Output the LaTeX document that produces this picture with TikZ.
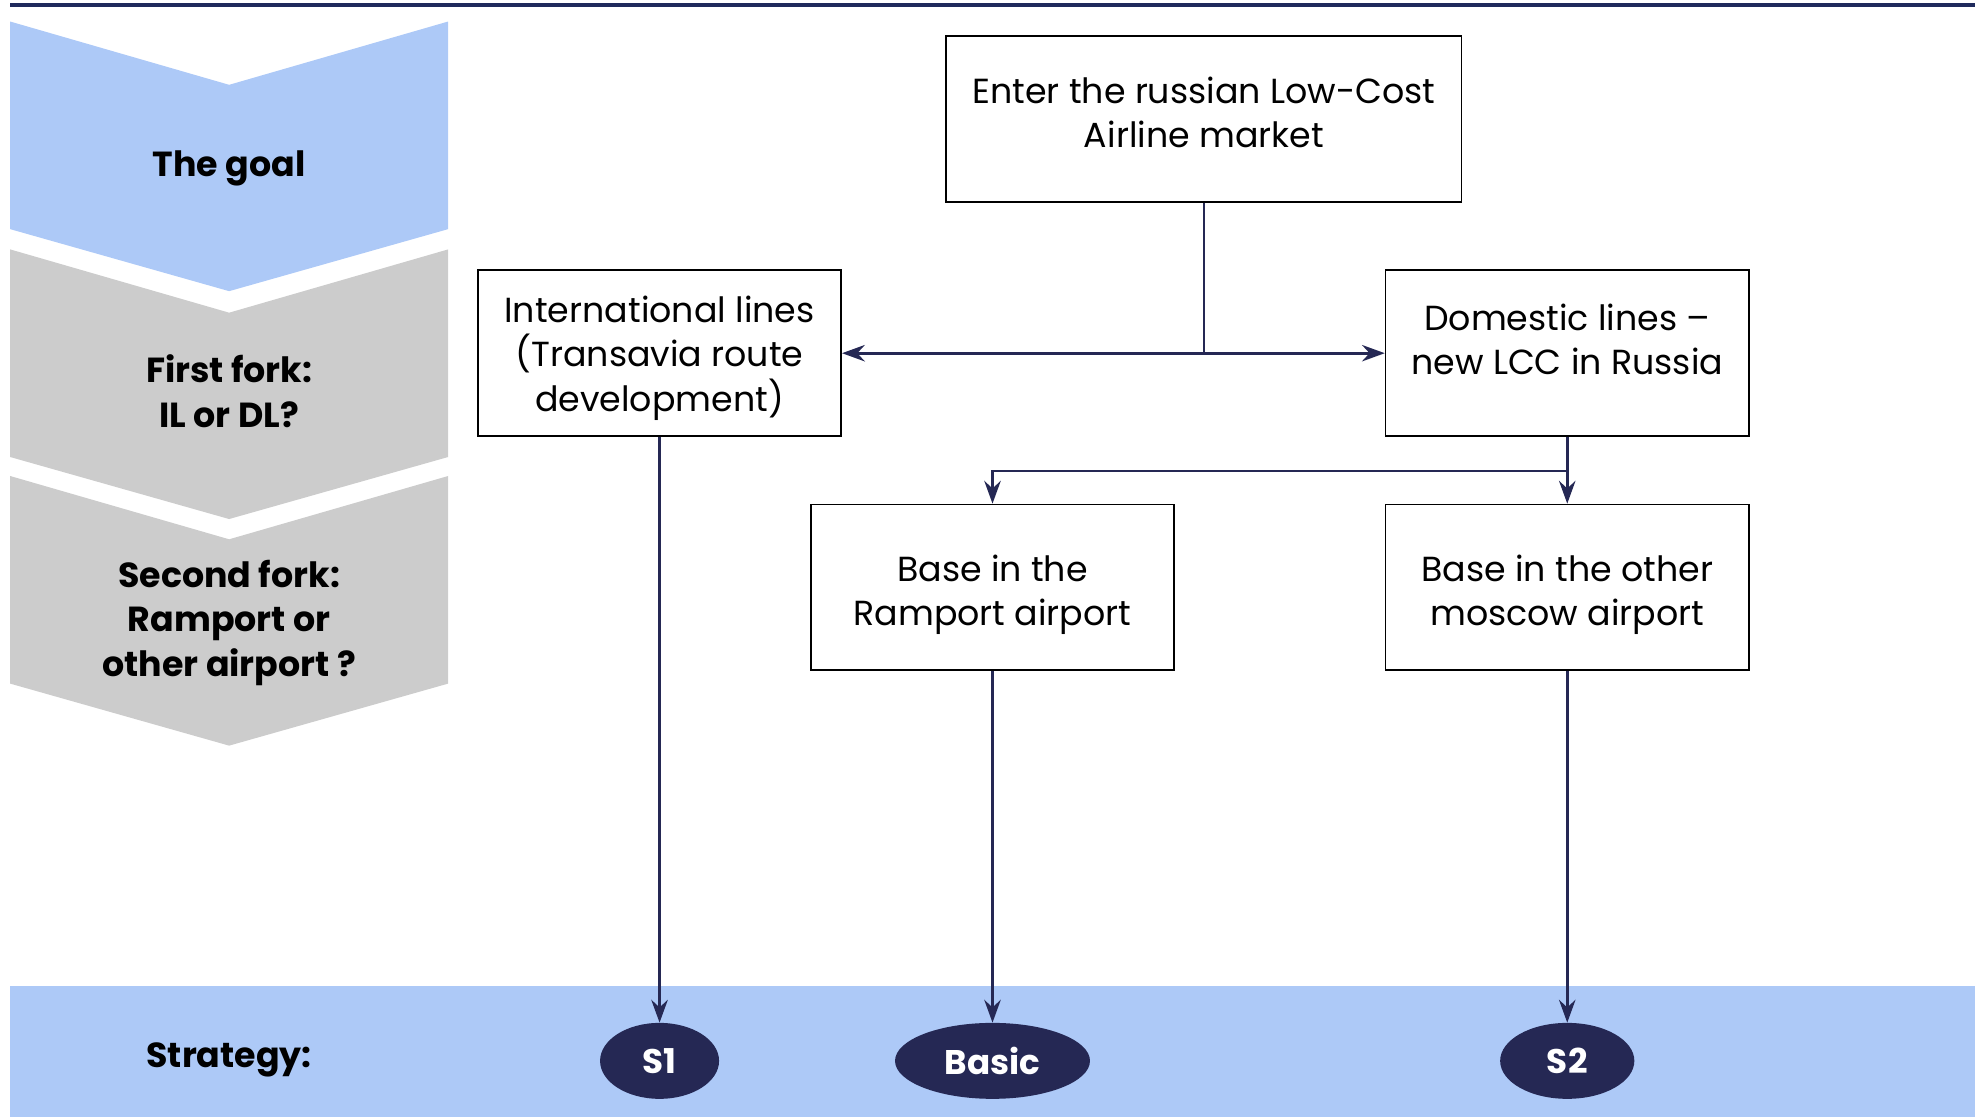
\documentclass[tikz,border=0pt]{standalone}
\usepackage{fontspec}
\setmainfont{Poppins}
\usetikzlibrary{arrows.meta}
\usetikzlibrary{shapes.geometric}

\definecolor{navyLine}{RGB}{31,42,92}
\definecolor{navyArrow}{RGB}{37,40,84}
\definecolor{goalBlue}{RGB}{173,201,247}
\definecolor{forkGray}{RGB}{204,204,204}

% chevron: #1 = top of sides, #2 = fill colour
\newcommand{\chevronStep}[2]{%
	\fill[#2] (8,#1) -- (181,#1+50) -- (354,#1) -- (354,#1+164) -- (181,#1+213) -- (8,#1+164) -- cycle;}

\begin{document}
\begin{tikzpicture}[x = 1pt, y = -1pt]
	\tikzstyle{boxStyle} = [draw, line width = 1.3pt, minimum width = 287pt, minimum height = 131pt, inner sep = 0pt]
	\tikzstyle{boxText} = [align = center, font = \fontsize{27.5}{35}\selectfont]
	\tikzstyle{forkLabel} = [align = center, font = \bfseries\fontsize{27.5}{35}\selectfont]
	\tikzstyle{stratStyle} = [shape = ellipse, fill = navyArrow, text = white, minimum height = 60pt, inner sep = 0pt, font = \bfseries\fontsize{27}{30}\selectfont]
	\tikzstyle{linkStyle} = [navyArrow, line width = 2.2pt]
	\tikzstyle{arrowStyle} = [linkStyle, -{Stealth[length = 18pt, width = 13pt, inset = 6pt]}]
	\useasboundingbox (0,0) rectangle (1568,882);
	\draw[navyLine, line width = 3pt] (8,4) -- (1560,4);
	\chevronStep{17}{goalBlue}
	\chevronStep{197}{forkGray}
	\chevronStep{376}{forkGray}
	\fill[goalBlue] (8,779) rectangle (1560,882);
	\node[forkLabel] (goal) at (181,133) {The goal};
	\node[forkLabel] (fork1) at (181,309) {First fork:\\IL or DL?};
	\node[forkLabel] (fork2) at (181,492) {Second fork:\\Ramport or\\other airport ?};
	\node[forkLabel] (strategy) at (181,837) {Strategy:};
	\node[boxStyle, minimum width = 407pt, label = {[boxText, yshift = 5pt]center:Enter the russian Low-Cost\\Airline market}] (enter) at (951,94) {};
	\node[boxStyle, label = {[boxText, yshift = -4pt]center:International lines\\(Transavia route\\development)}] (intl) at (521,279) {};
	\node[boxStyle, label = {[boxText, yshift = 11pt]center:Domestic lines --\\new LCC in Russia}] (dom) at (1238,279) {};
	\node[boxStyle, label = {[boxText, yshift = -6pt]center:Base in the\\Ramport airport}] (ramport) at (784,464) {};
	\node[boxStyle, label = {[boxText, yshift = -6pt]center:Base in the other\\moscow airport}] (other) at (1238,464) {};
	\node[stratStyle, minimum width = 94pt] (s1) at (521,838) {S1};
	\node[stratStyle, minimum width = 154pt] (basic) at (784,838) {Basic};
	\node[stratStyle, minimum width = 106pt] (s2) at (1238,838) {S2};
	\coordinate (split1) at (enter.south |- intl.east);
	\coordinate (split2) at (1238,372);
	\draw[linkStyle] (enter.south) -- (split1);
	\draw[arrowStyle] (split1) -- (intl.east);
	\draw[arrowStyle] (split1) -- (dom.west);
	\draw[linkStyle] (dom.south) -- (split2);
	\draw[arrowStyle] (split2) -| (ramport.north);
	\draw[arrowStyle] (split2) -- (other.north);
	\draw[arrowStyle] (intl.south) -- (s1.north);
	\draw[arrowStyle] (ramport.south) -- (basic.north);
	\draw[arrowStyle] (other.south) -- (s2.north);
\end{tikzpicture}
\end{document}
